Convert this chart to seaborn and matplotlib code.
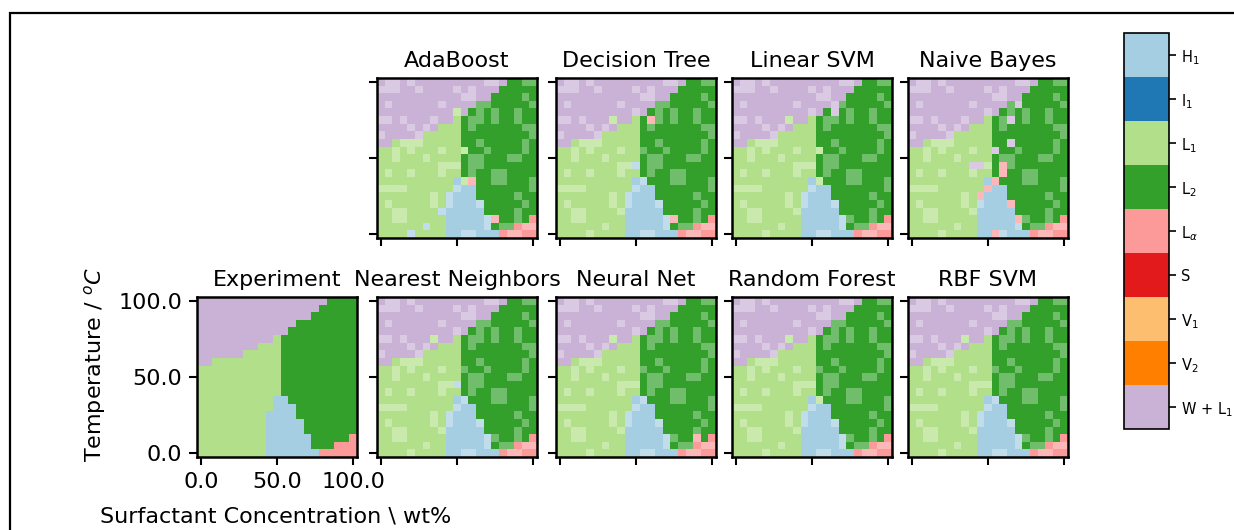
import numpy as np
import pandas as pd
import seaborn as sns
import matplotlib
matplotlib.use("Agg")
import matplotlib.pyplot as plt
from matplotlib.colors import ListedColormap, BoundaryNorm
from matplotlib.cm import ScalarMappable
from matplotlib.patches import Rectangle

# phase codes: H=H1, I=I1, L=L1, G=L2, A=L_alpha, S=S, U=V1, V=V2, P=W+L1
CODES = "HILGASUVP"
PHASE_LABELS = ["H$_1$", "I$_1$", "L$_1$", "L$_2$", r"L$_\alpha$", "S",
                "V$_1$", "V$_2$", "W + L$_1$"]

# 21 x 21 grid, rows from 100 C (top) down to 0 C, columns 0 -> 100 wt%
EXPERIMENT = [
    "PPPPPPPPPPPPPPPPPGGGG",
    "PPPPPPPPPPPPPPPPGGGGG",
    "PPPPPPPPPPPPPPPGGGGGG",
    "PPPPPPPPPPPPPGGGGGGGG",
    "PPPPPPPPPPPPGGGGGGGGG",
    "PPPPPPPPPPLGGGGGGGGGG",
    "PPPPPPPPLLLGGGGGGGGGG",
    "PPPPPPLLLLLGGGGGGGGGG",
    "PPLLLLLLLLLGGGGGGGGGG",
    "LLLLLLLLLLLGGGGGGGGGG",
    "LLLLLLLLLLLGGGGGGGGGG",
    "LLLLLLLLLLLGGGGGGGGGG",
    "LLLLLLLLLLLGGGGGGGGGG",
    "LLLLLLLLLLHHGGGGGGGGG",
    "LLLLLLLLLLHHHGGGGGGGG",
    "LLLLLLLLLHHHHGGGGGGGG",
    "LLLLLLLLLHHHHHGGGGGGG",
    "LLLLLLLLLHHHHHGGGGGGG",
    "LLLLLLLLLHHHHHHGGGGGA",
    "LLLLLLLLLHHHHHHGGGAAA",
    "LLLLLLLLLHHHHHHHAAAAA",
]

# held-out points (drawn lighter with the classifier's prediction)
TEST_MASK = [
    ".##.#.........##...##",
    "###..#....#.#........",
    "...........##......#.",
    ".#......#....##.....#",
    "..........#..#.#..#..",
    "##.#...#....##.#..#..",
    "....#.#.....#......##",
    "#....#..............#",
    "...###.......#.....#.",
    "..#.#...#..#..#....#.",
    "..#...#.....##...##..",
    "........###.##.......",
    ".#..#...#...#..##....",
    "...........#...##...#",
    "####......#.........#",
    ".......#.#........#..",
    ".#.....#.#...#.....#.",
    "..##....#.........#..",
    "..##..........##..#..",
    "......#.......#.##.##",
    "....#......##....##..",
]

# misclassified test points: (row, col, predicted phase)
ADABOOST_ERR = [(4, 10, "L"), (9, 11, "L"), (13, 11, "L"), (13, 12, "A"),
                (17, 8, "H"), (19, 6, "H"), (20, 4, "H"), (18, 15, "A")]
TREE_ERR = [(5, 12, "A"), (5, 7, "L"), (11, 10, "H"), (18, 15, "A")]
LINSVM_ERR = [(3, 13, "P"), (4, 13, "P"), (9, 11, "L"), (13, 11, "L"), (5, 7, "L")]
BAYES_ERR = [(8, 13, "P"), (9, 11, "P"), (11, 8, "P"), (11, 9, "P"), (11, 12, "A"),
             (12, 12, "A"), (13, 11, "A"), (14, 10, "A"), (15, 9, "A"),
             (16, 13, "A"), (18, 14, "A"), (20, 11, "A"), (3, 14, "P"), (5, 13, "P")]
KNN_ERR = [(5, 7, "L"), (11, 10, "H")]
MLP_ERR = [(5, 7, "L"), (18, 18, "A")]
FOREST_ERR = [(5, 7, "L"), (13, 11, "L")]
RBF_ERR = [(5, 7, "L")]

TOP_ROW = [("AdaBoost", ADABOOST_ERR), ("Decision Tree", TREE_ERR),
           ("Linear SVM", LINSVM_ERR), ("Naive Bayes", BAYES_ERR)]
BOTTOM_ROW = [("Nearest Neighbors", KNN_ERR), ("Neural Net", MLP_ERR),
              ("Random Forest", FOREST_ERR), ("RBF SVM", RBF_ERR)]

base = sns.color_palette("Paired", 9)
light = [tuple(c + (1 - c) * 0.3 for c in col) for col in base]
cmap = ListedColormap(list(base) + light)

W, H = 1234, 530
FS = 16


def grid_values(errors=None):
    vals = np.array([[CODES.index(ch) for ch in row] for row in EXPERIMENT], float)
    if errors is None:
        return vals
    test = np.array([[ch == "#" for ch in row] for row in TEST_MASK])
    for r, c, lab in errors:
        vals[r, c] = CODES.index(lab)
        test[r, c] = True
    vals[test] += 9
    return vals


def add_panel(fig, left, top, title, vals, labels=False):
    ax = fig.add_axes([left / W, 1 - (top + 160) / H, 160 / W, 160 / H])
    sns.heatmap(pd.DataFrame(vals), cmap=cmap, vmin=-0.5, vmax=17.5, cbar=False,
                ax=ax, xticklabels=False, yticklabels=False)
    for s in ax.spines.values():
        s.set_visible(True)
        s.set_linewidth(1.8)
    ax.set_xticks([0.5, 10.5, 20.5])
    ax.set_yticks([0.5, 10.5, 20.5])
    if labels:
        ax.set_xticklabels(["0.0", "50.0", "100.0"])
        ax.set_yticklabels(["100.0", "50.0", "0.0"], rotation=0)
    else:
        ax.set_xticklabels([])
        ax.set_yticklabels([])
    ax.tick_params(length=5.5, width=1.5, labelsize=FS, pad=5)
    ax.set_title(title, fontsize=FS, pad=8)
    return ax


fig = plt.figure(figsize=(W / 100, H / 100), dpi=100)

lefts = [197, 377, 556, 732, 908]
add_panel(fig, lefts[0], 297, "Experiment", grid_values(), labels=True)
for left, (name, err) in zip(lefts[1:], BOTTOM_ROW):
    add_panel(fig, left, 297, name, grid_values(err))
for left, (name, err) in zip(lefts[1:], TOP_ROW):
    add_panel(fig, left, 78, name, grid_values(err))

fig.text(100 / W, 1 - 517 / H, "Surfactant Concentration \\ wt%",
         fontsize=FS, ha="left", va="center")
fig.text(95 / W, 1 - 365 / H, "Temperature / $^oC$", fontsize=FS,
         rotation=90, ha="center", va="center")

# colour bar with the nine phases
cax = fig.add_axes([1124 / W, 1 - 429 / H, 45 / W, 396 / H])
sm = ScalarMappable(norm=BoundaryNorm(np.arange(-0.5, 9.5), 9),
                    cmap=ListedColormap(base))
cb = fig.colorbar(sm, cax=cax, ticks=range(9))
cb.set_ticklabels(PHASE_LABELS)
cb.outline.set_linewidth(1.2)
cax.minorticks_off()
cax.invert_yaxis()
cax.tick_params(labelsize=10.5, length=5, width=1.2)

fig.patches.append(Rectangle((10 / W, -0.1), 1.2, 1.1 - 12.5 / H, fill=False,
                             lw=1.6, ec="black", transform=fig.transFigure,
                             clip_on=False))

fig.savefig("out.png", dpi=100)
